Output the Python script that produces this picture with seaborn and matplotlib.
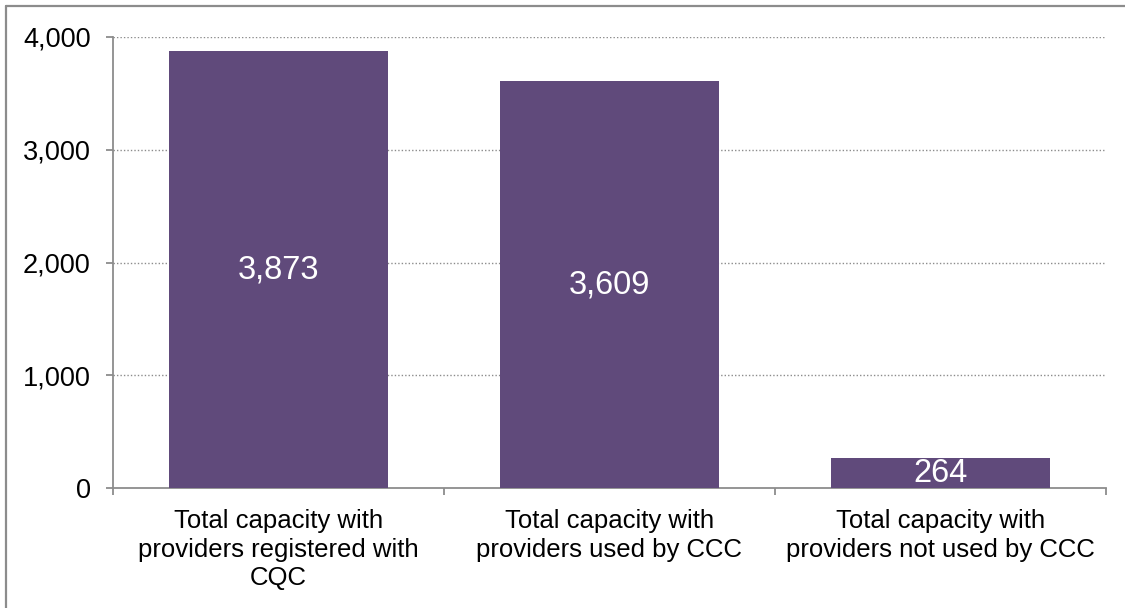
import matplotlib
matplotlib.use("Agg")
import matplotlib.pyplot as plt
from matplotlib.lines import Line2D
from matplotlib.ticker import FuncFormatter, FixedLocator
import seaborn as sns
import pandas as pd

categories = [
    "Total capacity with\nproviders registered with\nCQC",
    "Total capacity with\nproviders used by CCC",
    "Total capacity with\nproviders not used by CCC",
]
values = [3873, 3609, 264]
bar_labels = ["3,873", "3,609", "264"]
y_ticks = [0, 1000, 2000, 3000, 4000]

sns.set_theme(style="white")
plt.rcParams["font.family"] = ["Liberation Sans", "DejaVu Sans"]

df = pd.DataFrame({"category": categories, "value": values})

fig = plt.figure(figsize=(11.25, 6.08), dpi=100)
ax = fig.add_axes([113 / 1125, 1 - 488 / 608, (1106 - 113) / 1125, (488 - 37) / 608])

sns.barplot(data=df, x="category", y="value", color="#604A7B", saturation=1,
            width=0.66, ax=ax, zorder=3, linewidth=0)

ax.set_xlim(-0.5, 2.5)
ax.set_ylim(0, 4000)
ax.set_yticks(y_ticks)
ax.yaxis.set_major_formatter(FuncFormatter(lambda v, p: f"{int(v):,}"))
ax.set_xlabel("")
ax.set_ylabel("")

# grid
for t in y_ticks[1:]:
    ax.axhline(t, color="#8c8c8c", linestyle=(0, (1, 1.5)), linewidth=1.0, zorder=1)

for s in ["top", "right"]:
    ax.spines[s].set_visible(False)
for s in ["left", "bottom"]:
    ax.spines[s].set_color("#8c8c8c")
    ax.spines[s].set_linewidth(1.3)

ax.tick_params(axis="y", which="major", direction="out", length=5, width=1.3,
               color="#8c8c8c", left=True, pad=11, labelsize=19.5, labelcolor="black")
ax.tick_params(axis="x", which="major", length=0, pad=15, labelsize=18.5, labelcolor="black")
ax.xaxis.set_minor_locator(FixedLocator([-0.5, 0.5, 1.5, 2.5]))
ax.tick_params(axis="x", which="minor", direction="out", length=5, width=1.3,
               color="#8c8c8c", bottom=True)
for lbl in ax.get_xticklabels():
    lbl.set_horizontalalignment("center")
    lbl.set_linespacing(1.25)

for i, (v, lab) in enumerate(zip(values, bar_labels)):
    ax.text(i, v / 2, lab, ha="center", va="center", color="white", fontsize=23.5, zorder=4)

# outer border (left and top edges visible)
fig.add_artist(Line2D([6 / 1125, 6 / 1125], [0, 1 - 6 / 608], transform=fig.transFigure,
                      color="#8c8c8c", linewidth=1.6))
fig.add_artist(Line2D([6 / 1125, 1], [1 - 6 / 608, 1 - 6 / 608], transform=fig.transFigure,
                      color="#8c8c8c", linewidth=1.6))

fig.savefig("out.png", dpi=100, facecolor="white")
